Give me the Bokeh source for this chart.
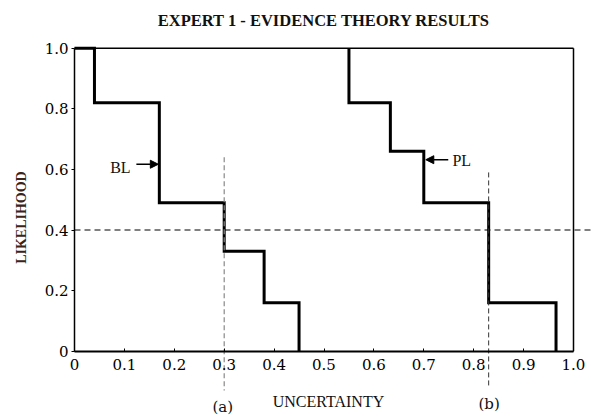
from bokeh.plotting import figure
from bokeh.models import Range1d, Label, Arrow, NormalHead, FixedTicker, LinearAxis
from bokeh.embed import file_html
from bokeh.resources import INLINE
import math

# Data
bl_x = [0.0, 0.04, 0.17, 0.30, 0.38, 0.45]
bl_y = [1.0, 0.82, 0.49, 0.33, 0.16, 0.0]
pl_x = [0.55, 0.55, 0.633, 0.70, 0.83, 0.965]
pl_y = [1.0, 0.82, 0.66, 0.49, 0.16, 0.0]
threshold = 0.4
cut_a = 0.30
cut_b = 0.83
x_ticks = [0, 0.1, 0.2, 0.3, 0.4, 0.5, 0.6, 0.7, 0.8, 0.9, 1.0]
x_tick_labels = ["0", "0.1", "0.2", "0.3", "0.4", "0.5", "0.6", "0.7", "0.8", "0.9", "1.0"]
y_ticks = [0, 0.2, 0.4, 0.6, 0.8, 1.0]
y_tick_labels = ["0", "0.2", "0.4", "0.6", "0.8", "1.0"]

SERIF = "Liberation Serif"
TICKFONT = "DejaVu Serif"

# canvas-wide frame; axes fixed at data 0
p = figure(width=591, height=416,
           x_range=Range1d(-74 / 499, 517 / 499),
           y_range=Range1d((350.7 - 416) / 303, 350.7 / 303),
           output_backend="svg", toolbar_location=None,
           min_border=0, x_axis_type=None, y_axis_type=None)
p.grid.visible = False
p.background_fill_color = "white"
p.border_fill_color = "white"
p.outline_line_color = None

xax = LinearAxis(fixed_location=0, bounds=(0, 1))
yax = LinearAxis(fixed_location=0, bounds=(0, 1))
p.add_layout(xax, "below")
p.add_layout(yax, "left")

for ax, ticks, labels in ((xax, x_ticks, x_tick_labels), (yax, y_ticks, y_tick_labels)):
    ax.ticker = FixedTicker(ticks=ticks)
    ax.major_label_overrides = {t: l for t, l in zip(ticks, labels)}
    ax.minor_tick_line_color = None
    ax.axis_line_color = "black"
    ax.major_tick_line_color = "black"
    ax.major_label_text_font = TICKFONT
    ax.major_label_text_font_size = "15px"
    ax.major_label_text_color = "black"

xax.axis_line_width = 2
xax.major_tick_in = 3
xax.major_tick_out = 0
xax.major_label_standoff = 8
yax.axis_line_width = 1.5
yax.major_tick_in = 0
yax.major_tick_out = 3
yax.major_label_standoff = 3

# frame top and right edges
p.line([0, 1], [1, 1], line_color="black", line_width=1.5)
p.line([1, 1], [0, 1], line_color="black", line_width=1.5)

# Step curves
p.step(bl_x, bl_y, mode="after", line_color="black", line_width=3, line_join="miter")
p.step(pl_x, pl_y, mode="after", line_color="black", line_width=3, line_join="miter")

# Dashed reference lines
p.line([0, 1.04], [threshold, threshold], line_color="black", line_width=1, line_dash="6 4")
p.line([cut_a, cut_a], [0.64, -0.13], line_color="#888888", line_width=1.2, line_dash="5 3")
p.line([cut_b, cut_b], [0.59, -0.12], line_color="#333333", line_width=1, line_dash="5 3")

# Pointer arrows
p.add_layout(Arrow(x_start=0.124, y_start=0.617, x_end=0.168, y_end=0.617,
                   end=NormalHead(size=8, fill_color="black", line_color="black"),
                   line_color="black", line_width=1.5))
p.add_layout(Arrow(x_start=0.749, y_start=0.632, x_end=0.704, y_end=0.632,
                   end=NormalHead(size=8, fill_color="black", line_color="black"),
                   line_color="black", line_width=1.5))

def lab(x, y, text, font=SERIF, size="15px", style="normal", angle=0, color="#111111"):
    p.add_layout(Label(x=x, y=y, text=text, text_font=font, text_font_size=size,
                       text_font_style=style, text_align="center", text_baseline="middle",
                       angle=angle, text_color=color))

lab(0.092, 0.606, "BL", size="16px")
lab(0.776, 0.629, "PL", size="16px")
lab(0.5, 1.093, "EXPERT 1 - EVIDENCE THEORY RESULTS", style="bold", size="16.5px")
lab(0.509, -0.166, "UNCERTAINTY", size="16px")
lab(-0.106, 0.441, "LIKELIHOOD", style="bold", size="14px", angle=math.pi / 2, color="#3a2418")
lab(0.297, -0.183, "(a)", font=TICKFONT, size="15px")
lab(0.831, -0.174, "(b)", font=TICKFONT, size="15px")

open("out.html", "w").write(file_html(p, INLINE))
